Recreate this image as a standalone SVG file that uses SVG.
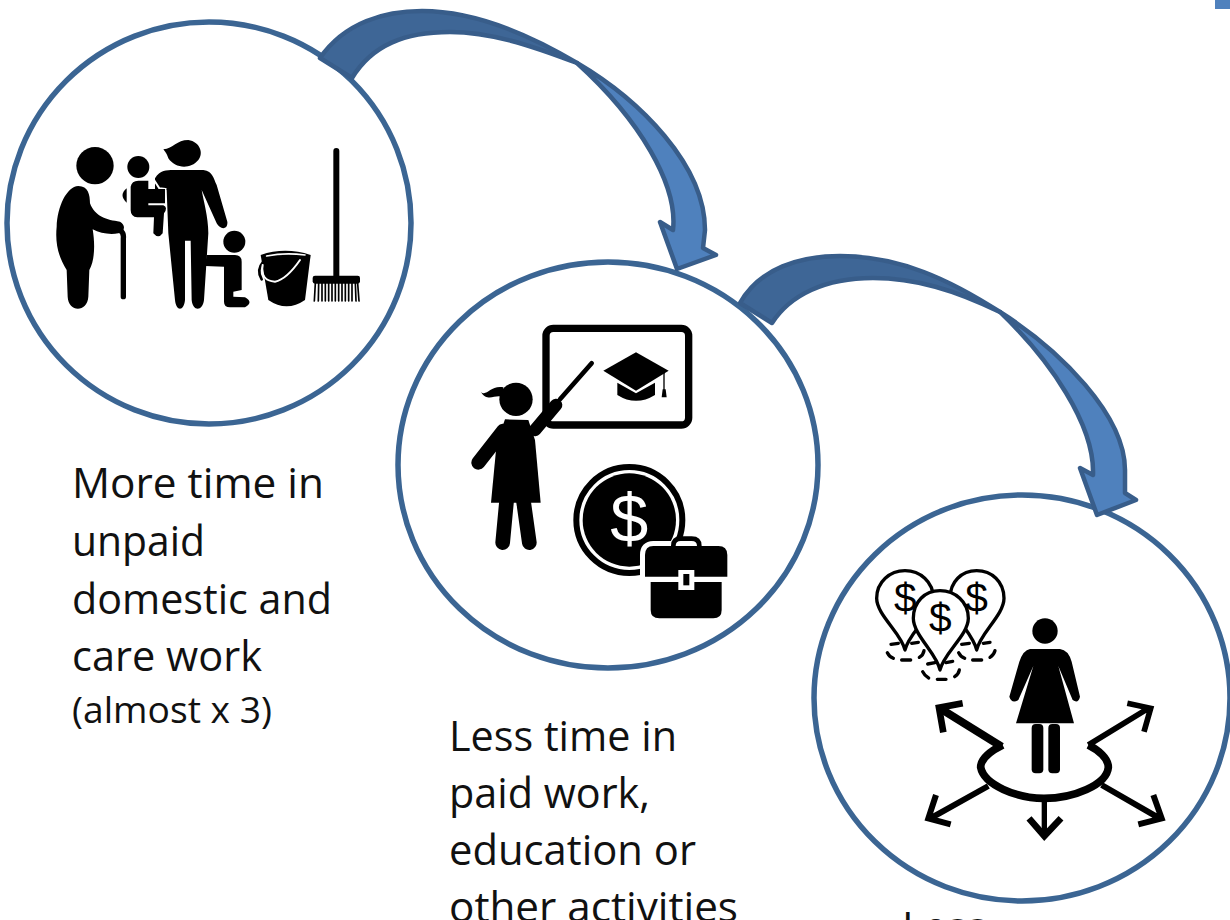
<svg xmlns="http://www.w3.org/2000/svg" width="1230" height="920" viewBox="0 0 1230 920">
<style>
.ring{fill:#fff;stroke:#3b6593;stroke-width:5.5}
.arrow{stroke:#385d8a;stroke-width:4.5;stroke-linejoin:round}
.back{fill:#3e6696}
.front{fill:#4f81bd}
.t{font-family:"Open Sans","Liberation Sans",sans-serif;font-size:41.6px;fill:#111}
.s{font-size:37px}
.d{font-family:"Liberation Sans",sans-serif;fill:#000;text-anchor:middle}
.k{fill:#000}
.l{fill:none;stroke:#000;stroke-linecap:round;stroke-linejoin:round}
.p{fill:#fff;stroke:#000;stroke-width:10;stroke-linejoin:round}
.w{fill:none;stroke:#fff;stroke-linecap:round}
.m{fill:none;stroke:#000;stroke-linejoin:miter}
</style>
<rect width="1230" height="920" fill="#fff"/>
<rect x="1215" y="0" width="15" height="9" fill="#4f81bd"/>

<g id="node-care">
<ellipse class="ring" cx="209" cy="223" rx="202" ry="201"/>
<g transform="translate(0,120) scale(.33333)">
<circle class="k" cx="285" cy="137" r="56"/>
<path class="k" d="M235,198C265,198 270,225 270,250C285,290 320,300 360,305C378,315 375,335 355,340C330,345 300,340 278,328C285,370 285,420 268,450L265,530C262,578 205,578 203,530L200,450C175,410 165,370 170,320C172,260 200,200 235,198Z"/>
<path class="l" stroke-width="16" d="M370,530L370,355Q372,340 362,332"/>
<path class="k" d="M490,88C520,85 530,60 565,60C600,65 612,100 595,120C570,150 525,145 505,115C500,100 495,95 490,88Z"/>
<path class="k" d="M465,175C480,150 500,150 520,150L610,150C640,155 640,175 650,195L682,305C685,330 660,330 650,310L605,210C610,240 625,290 625,340L612,540C608,575 578,575 575,540L572,362L555,362L555,540C552,575 528,575 525,540L505,340L500,210L465,210Z"/>
<path class="w" stroke-width="6" d="M462,180L478,205L497,207M448,253L497,257"/>
<circle class="k" cx="415" cy="141" r="33"/>
<path class="k" d="M392,200Q395,182 415,182L445,182L445,207L495,207L495,250L445,250L445,256L490,256Q505,262 492,280L488,340Q475,358 460,340L462,292L412,292Q392,290 392,270Z"/>
<path class="k" d="M380,205Q355,225 380,248Z"/>
<circle class="k" cx="703" cy="365" r="33"/>
<path class="k" d="M620,405L705,405Q725,405 725,425L725,510L700,515L700,530L735,532Q762,547 735,562L690,562Q672,562 672,545L672,440L615,438Z"/>
<path class="k" d="M782,405Q855,380 932,405L915,540Q860,578 805,540Z"/>
<path class="l" stroke-width="8" d="M790,425Q768,450 785,478"/>
<path class="w" stroke-width="5" d="M800,408Q855,397 915,405"/>
<path class="w" stroke-width="6" d="M788,435Q780,482 825,485Q860,478 900,420"/>
<path class="l" stroke-width="18" d="M1009,93L1009,470"/>
<rect class="k" x="938" y="467" width="142" height="24" rx="7"/>
<path class="l" stroke-width="5" stroke-linecap="butt" d="M946,490L943,543M956,490L955,543M966,490L966,543M976,490L976,543M986,490L986,543M996,490L996,543M1006,490L1006,543M1016,490L1016,543M1026,490L1026,543M1036,490L1036,543M1046,490L1046,543M1056,490L1056,543M1066,490L1068,543M1073,490L1077,543"/>
</g>
</g>

<g id="node-paid">
<ellipse class="ring" cx="608" cy="465" rx="210" ry="203"/>
<g transform="translate(440,310) scale(.33333)">
<rect x="318" y="55" width="428" height="290" rx="22" fill="none" stroke="#000" stroke-width="22"/>
<path class="k" d="M490,182L588,127L686,182L588,242Z"/>
<path class="k" d="M532,218L588,250L645,218L645,255Q588,290 532,255Z"/>
<path class="l" stroke-width="4" d="M672,190L672,240"/>
<path class="k" d="M668,238L677,238L680,262L665,262Z"/>
<circle class="k" cx="228" cy="268" r="50"/>
<path class="k" d="M122,245C140,262 150,225 190,232L190,262C165,250 145,280 122,245Z"/>
<path class="l" stroke-width="14" d="M360,268L455,160"/>
<path class="l" stroke-width="38" d="M285,360L348,285"/>
<path class="l" stroke-width="42" d="M190,362L115,458"/>
<path class="k" d="M195,328L265,330L285,390L302,578L153,578L170,400Z"/>
<path class="l" stroke-width="44" d="M200,570L188,698M250,570L268,698"/>
<path class="w" stroke-width="3" stroke-linecap="butt" d="M228,590L224,620"/>
<circle cx="568" cy="630" r="159" fill="none" stroke="#000" stroke-width="18"/>
<circle class="k" cx="568" cy="630" r="140"/>
<text class="d" x="568" y="695" font-size="205" style="fill:#fff">$</text>
<path d="M615,800L862,800L862,735Q862,708 835,708L640,708Q615,708 615,735ZM632,800L845,800L845,900Q845,925 820,925L658,925Q632,925 632,900Z" fill="#fff" stroke="#fff" stroke-width="30" stroke-linejoin="round"/>
<path class="l" stroke-width="14" d="M700,708Q700,686 722,686L755,686Q778,686 778,708"/>
<path class="k" d="M615,800L862,800L862,735Q862,708 835,708L640,708Q615,708 615,735Z"/>
<path class="k" d="M632,816L845,816L845,900Q845,925 820,925L658,925Q632,925 632,900Z"/>
<rect x="715" y="780" width="48" height="60" fill="#fff"/>
<rect class="k" x="730" y="792" width="18" height="34"/>
</g>
</g>

<g id="node-less">
<ellipse class="ring" cx="1022" cy="698" rx="208" ry="203"/>
<g transform="translate(860,550) scale(.33333)">
<path class="p" d="M135,300C125,250 50,195 50,145C50,95 90,62 135,62C180,62 220,95 220,145C220,195 145,250 135,300Z"/>
<path class="p" d="M350,300C340,250 270,195 270,145C270,95 305,62 350,62C395,62 432,95 432,145C432,195 360,250 350,300Z"/>
<text class="d" x="136" y="185" font-size="122">$</text>
<text class="d" x="350" y="185" font-size="122">$</text>
<path class="p" d="M240,360C230,310 160,255 160,205C160,155 195,122 240,122C285,122 325,155 325,205C325,255 250,310 240,360Z"/>
<text class="d" x="241" y="245" font-size="122">$</text>
<path class="l" stroke-width="10" d="M93,283L115,280M155,280L175,277M305,283L328,280M370,280L390,277M203,342L225,338M258,338L278,334"/>
<path class="l" stroke-width="10" d="M82,308Q88,320 100,325M125,330L152,330M178,322Q190,315 192,302M296,308Q302,320 314,325M338,330L365,330M390,322Q402,315 405,302M188,365Q194,378 206,384M232,388L258,388M284,380Q296,372 298,360"/>
<circle class="k" cx="555" cy="243" r="38"/>
<path class="k" d="M510,297L600,297Q625,300 635,335L660,440Q655,462 638,450L595,348L642,520L468,520L520,348L475,450Q455,462 448,440L478,335Q490,300 510,297Z"/>
<rect class="k" x="515" y="522" width="35" height="148" rx="12"/>
<rect class="k" x="565" y="522" width="35" height="148" rx="12"/>
<path class="m" stroke-width="23" d="M428,585Q362,618 362,652C372,705 470,745 552,745C640,745 740,705 745,652C745,625 715,600 685,585"/>
<path class="m" stroke-width="24" d="M425,590L245,478"/>
<path class="m" stroke-width="20" d="M250,547L237,473L308,460"/>
<path class="m" stroke-width="17" d="M685,585L860,478M802,460L872,475L852,545"/>
<path class="m" stroke-width="18" d="M385,708L215,803M228,735L205,805L272,823"/>
<path class="m" stroke-width="18" d="M725,705L895,803M880,735L905,805L835,823"/>
<path class="m" stroke-width="16" d="M553,750L553,855"/>
<path class="m" stroke-width="20" d="M507,805L553,858L603,805"/>
</g>
</g>

<g id="connectors">
<g id="arrow-1" class="arrow">
<path class="back" d="M320,58C345,22 385,11 422,11C475,11 530,35 577,63C530,45 490,32 450,32C405,32 372,45 352,78Z"/>
<path class="front" d="M577,63C640,100 705,165 705,230L703,248L716,255L677,269L660,222L673,230C678,185 640,120 577,63Z"/>
</g>
<g id="arrow-2" class="arrow">
<path class="back" d="M740,303C760,268 800,256 840,256C900,256 950,280 1000,312C955,290 915,278 873,278C825,278 790,295 772,323Z"/>
<path class="front" d="M1000,312C1060,350 1125,415 1125,470L1125,493L1136,500L1097,515L1080,468L1093,475C1095,425 1050,360 1000,312Z"/>
</g>
</g>

<g id="labels">
<text class="t" x="72" y="498" textLength="252" lengthAdjust="spacingAndGlyphs">More time in</text>
<text class="t" x="72" y="556" textLength="133" lengthAdjust="spacingAndGlyphs">unpaid</text>
<text class="t" x="72" y="614" textLength="260" lengthAdjust="spacingAndGlyphs">domestic and</text>
<text class="t" x="72" y="671" textLength="190" lengthAdjust="spacingAndGlyphs">care work</text>
<text class="t s" x="72" y="723" textLength="200" lengthAdjust="spacingAndGlyphs">(almost x 3)</text>
<text class="t" x="449" y="751" textLength="228" lengthAdjust="spacingAndGlyphs">Less time in</text>
<text class="t" x="449" y="808" textLength="201" lengthAdjust="spacingAndGlyphs">paid work,</text>
<text class="t" x="449" y="865" textLength="247" lengthAdjust="spacingAndGlyphs">education or</text>
<text class="t" x="449" y="922" textLength="289" lengthAdjust="spacingAndGlyphs">other activities</text>
<text class="t" x="902" y="942">Less</text>
</g>
</svg>
